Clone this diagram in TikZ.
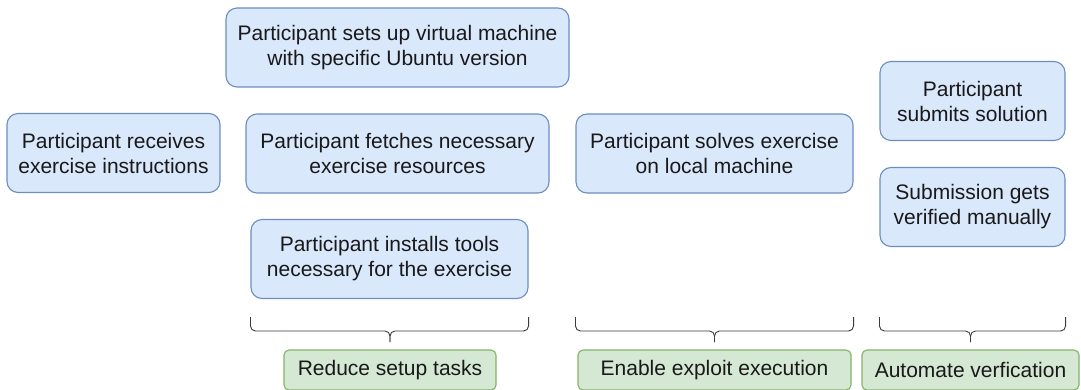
\documentclass[tikz,border=0pt]{standalone}
\usepackage{fontspec}
\setmainfont{Liberation Sans}
\definecolor{StepBlue}{HTML}{DAE8FC}
\definecolor{StepBlueLine}{HTML}{6C8EBF}
\definecolor{GoalGreen}{HTML}{D5E8D4}
\definecolor{GoalGreenLine}{HTML}{82B366}
\definecolor{BraceGray}{HTML}{3A3A3A}
\usetikzlibrary{positioning, calc}

\begin{document}
\begin{tikzpicture}[x=1pt, y=-1pt, font=\fontsize{21}{25}\selectfont,
	stepbox/.style={rectangle, rounded corners=11pt, draw=StepBlueLine, line width=1.1pt, fill=StepBlue,
		align=center, inner sep=0pt, minimum height=79pt, text=black!90},
	goal/.style={rectangle, rounded corners=5pt, draw=GoalGreenLine, line width=1.1pt, fill=GoalGreen,
		align=center, inner sep=0pt, minimum height=40pt, text=black!90},
	brc/.style={draw=BraceGray, line width=0.9pt, rounded corners=5pt}]

	\useasboundingbox (0,0) rectangle (1081,389);

	\node[stepbox, minimum width=213pt] (recv)  at (113.5,153) {Participant receives\\exercise instructions};
	\node[stepbox, minimum width=343pt] (vm)    at (397.5,47.5) {Participant sets up virtual machine\\with specific Ubuntu version};
	\node[stepbox, minimum width=303pt] (fetch) at (397.5,153.5) {Participant fetches necessary\\exercise resources};
	\node[stepbox, minimum width=277pt] (inst)  at (389.5,259) {Participant installs tools\\necessary for the exercise};
	\node[stepbox, minimum width=277pt] (solve) at (714.5,153.5) {Participant solves exercise\\on local machine};
	\node[stepbox, minimum width=185pt] (sub)   at (972.5,101) {Participant\\submits solution};
	\node[stepbox, minimum width=185pt] (ver)   at (972.5,207) {Submission gets\\verified manually};

	\node[goal, minimum width=212pt] (setup)  at (390,370) {Reduce setup tasks};
	\node[goal, minimum width=273pt] (exploit) at (714.5,370) {Enable exploit execution};
	\node[goal, minimum width=217pt] (verif)  at (970.5,370) {Automate verfication};

	% geschweifte Klammern unter den Gruppen
	\coordinate (top) at (0,317);
	\coordinate (arm) at (0,331);
	\coordinate (tip) at (0,342);
	\foreach \g/\t in {inst/setup, solve/exploit, ver/verif}{
		\draw[brc] (\g.west |- top) -- (\g.west |- arm) -- (\t.north |- arm) -- (\t.north |- tip);
		\draw[brc] (\g.east |- top) -- (\g.east |- arm) -- (\t.north |- arm) -- (\t.north |- tip);
	}
\end{tikzpicture}
\end{document}
